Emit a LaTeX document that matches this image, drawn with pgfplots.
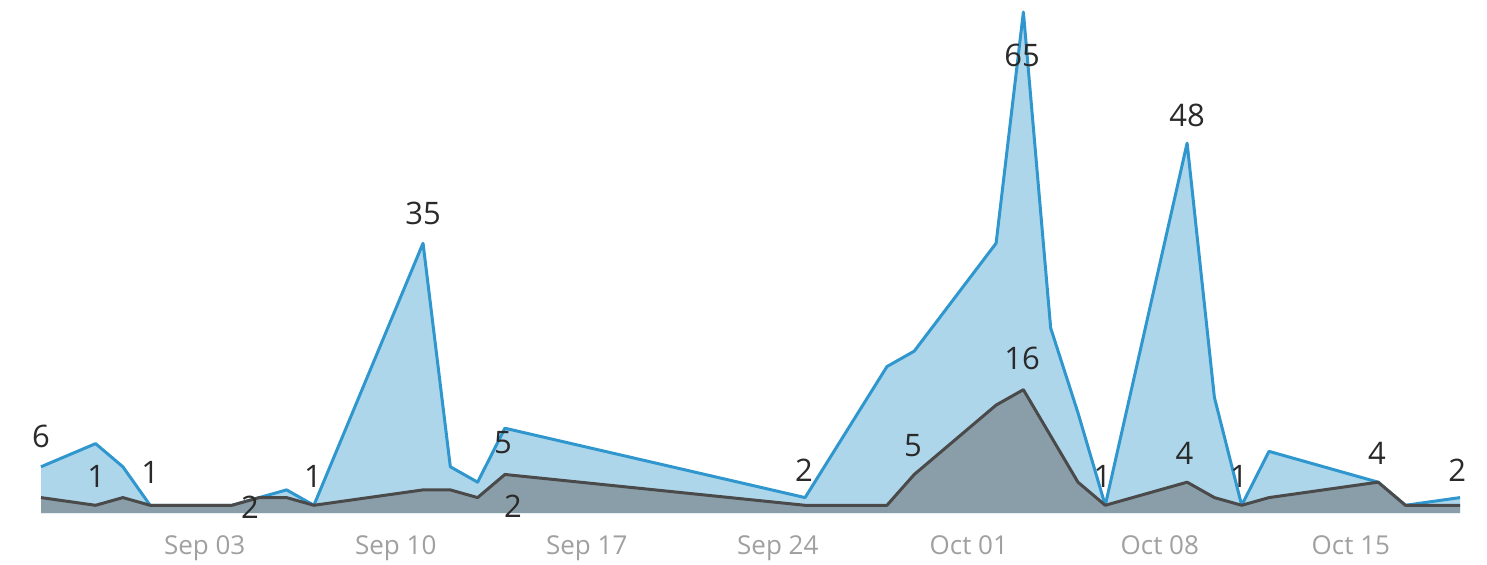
\documentclass[border=0pt]{standalone}
\usepackage{pgfplots}
\pgfplotsset{compat=1.18}
\usepackage{pgfplotstable}
\usepackage{fontspec}
\setmainfont{Open Sans}
\definecolor{bluefill}{HTML}{AED6EB}
\definecolor{blueline}{HTML}{2F97CE}
\definecolor{grayfill}{HTML}{8A9EAA}
\definecolor{grayline}{HTML}{4A4A4A}
\definecolor{ticktext}{HTML}{A0A0A0}
\definecolor{labeltext}{HTML}{2A2A2A}
\tikzset{lbl/.style={font=\fontsize{15.5}{15.5}\selectfont, text=labeltext, inner sep=0pt}}

% x = days after Sep 03
\pgfplotstableread{
d v
-6 6
-4 9
-3 6
-2 1
-1 1
0 1
1 1
2 2
3 3
4 1
8 35
9 6
10 4
11 11
22 2
25 19
26 21
29 35
30 65
31 24
32 13
33 1
36 48
37 15
38 1
39 8
43 4
44 1
46 2
}\bluedata

\pgfplotstableread{
d v
-6 2
-4 1
-3 2
-2 1
-1 1
0 1
1 1
2 2
3 2
4 1
8 3
9 3
10 2
11 5
22 1
25 1
26 5
29 14
30 16
31 10
32 4
33 1
36 4
37 2
38 1
39 2
43 4
44 1
46 1
}\graydata

\begin{document}
\begin{tikzpicture}
\path[use as bounding box] (0,0) rectangle (743.5pt,282pt);
\begin{axis}[
  at={(20.5pt,25.5pt)}, anchor=south west,
  scale only axis, width=709.5pt, height=250.5pt,
  xmin=-6, xmax=46, ymin=0, ymax=65,
  axis line style={draw=none},
  tick style={draw=none},
  ytick=\empty,
  xtick={0,7,14,21,28,35,42},
  xticklabels={Sep 03,Sep 10,Sep 17,Sep 24,Oct 01,Oct 08,Oct 15},
  xticklabel style={font=\fontsize{13}{13}\selectfont, text=ticktext, anchor=base, yshift=-20.5pt},
  /pgf/number format/assume math mode=true,
  clip=false,
]
\addplot[fill=bluefill, draw=none] table[x=d,y=v] {\bluedata} \closedcycle;
\addplot[draw=blueline, line width=1.5pt, line join=round] table[x=d,y=v] {\bluedata};
\addplot[fill=grayfill, draw=none] table[x=d,y=v] {\graydata} \closedcycle;
\addplot[draw=grayline, line width=1.5pt, line join=round] table[x=d,y=v] {\graydata};

\node[lbl] at (axis cs:-6,9.9) {6};
\node[lbl] at (axis cs:-3.98,4.7) {1};
\node[lbl] at (axis cs:-2,5.2) {1};
\node[lbl] at (axis cs:1.66,0.8) {2};
\node[lbl] at (axis cs:3.97,4.7) {1};
\node[lbl] at (axis cs:8,38.9) {35};
\node[lbl] at (axis cs:10.93,9.1) {5};
\node[lbl] at (axis cs:11.3,0.9) {2};
\node[lbl] at (axis cs:21.96,5.6) {2};
\node[lbl] at (axis cs:25.95,8.8) {5};
\node[lbl] at (axis cs:29.95,59.4) {65};
\node[lbl] at (axis cs:29.95,20.1) {16};
\node[lbl] at (axis cs:32.9,4.7) {1};
\node[lbl] at (axis cs:35.9,7.8) {4};
\node[lbl] at (axis cs:36,51.6) {48};
\node[lbl] at (axis cs:37.9,4.7) {1};
\node[lbl] at (axis cs:42.96,7.8) {4};
\node[lbl] at (axis cs:45.9,5.6) {2};
\end{axis}
\end{tikzpicture}
\end{document}
